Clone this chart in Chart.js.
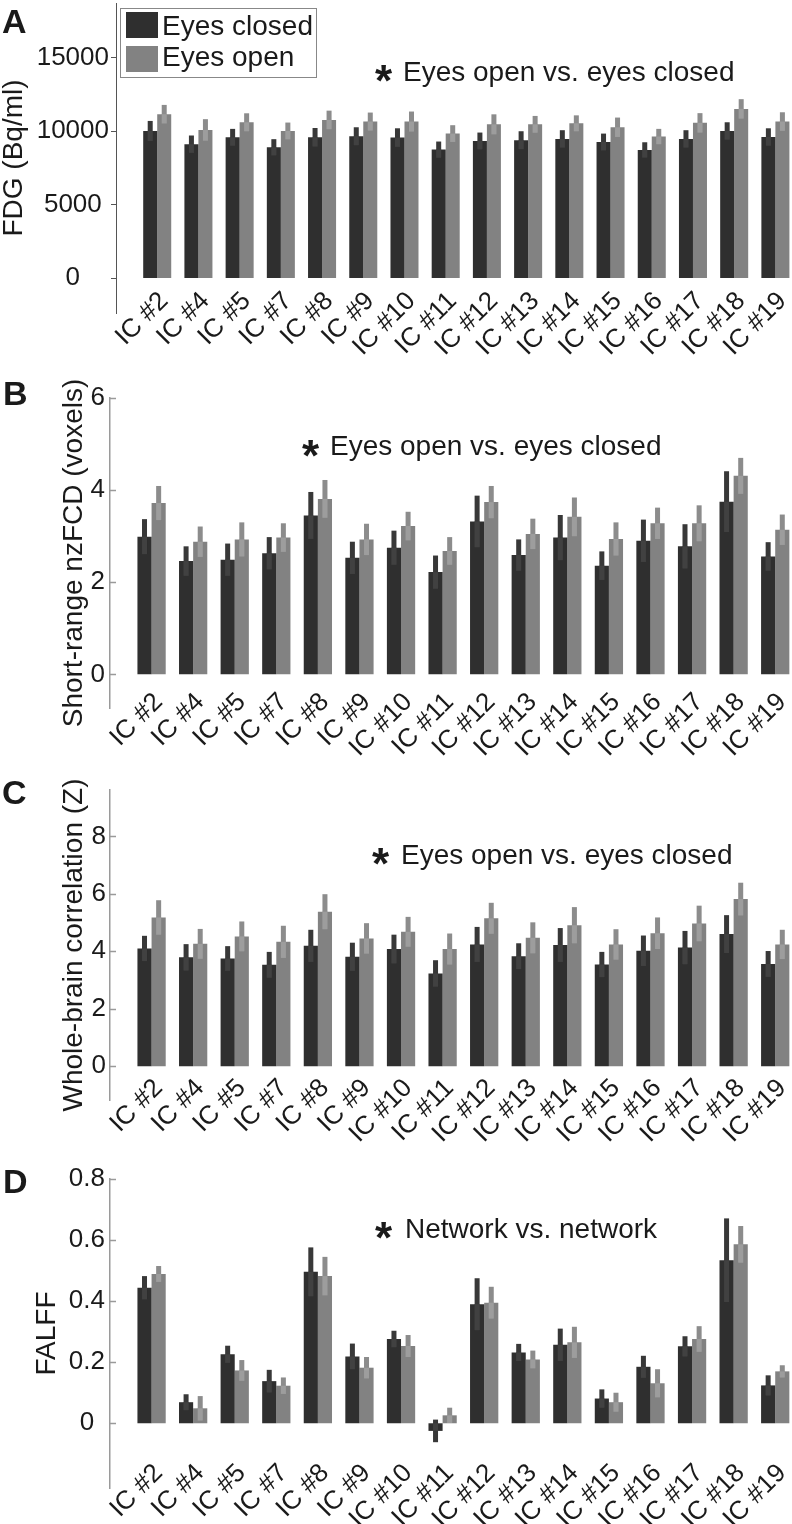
<!DOCTYPE html>
<html>
<head>
<meta charset="utf-8">
<script src="https://cdn.jsdelivr.net/npm/chart.js@4.4.1/dist/chart.umd.min.js"></script>
<style>
body { margin: 0; background: #fff; width: 792px; height: 1524px; overflow: hidden; position: relative;
       font-family: "Liberation Sans", Arial, sans-serif; color: #1a1a1a; }
canvas { position: absolute; left: 0; }
.txt { position: absolute; white-space: nowrap; line-height: 1; }
.letter { font-size: 34px; font-weight: bold; }
.note { font-size: 28px; }
.star { font-size: 44px; font-weight: bold; }
</style>
</head>
<body>
<canvas id="chartA" width="800" height="370" style="top:0px"></canvas>
<canvas id="chartB" width="800" height="410" style="top:360px"></canvas>
<canvas id="chartC" width="800" height="380" style="top:770px"></canvas>
<canvas id="chartD" width="800" height="374" style="top:1150px"></canvas>

<div class="txt letter" style="left:2px; top:4px">A</div>
<div class="txt letter" style="left:3px; top:376px">B</div>
<div class="txt letter" style="left:2px; top:775px">C</div>
<div class="txt letter" style="left:3px; top:1164px">D</div>

<div class="txt star" style="left:375px; top:59px">*</div>
<div class="txt note" style="left:403px; top:58px">Eyes open vs. eyes closed</div>
<div class="txt star" style="left:302px; top:434px">*</div>
<div class="txt note" style="left:330px; top:432px">Eyes open vs. eyes closed</div>
<div class="txt star" style="left:372px; top:842px">*</div>
<div class="txt note" style="left:401px; top:841px">Eyes open vs. eyes closed</div>
<div class="txt star" style="left:375px; top:1216px">*</div>
<div class="txt note" style="left:405px; top:1215px">Network vs. network</div>

<div id="legend" style="position:absolute; left:120px; top:8px; width:197px; height:70px; border:1.5px solid #888; box-sizing:border-box;"></div>

<script>
// categories and series
const icLabels = ['IC #2', 'IC #4', 'IC #5', 'IC #7', 'IC #8', 'IC #9', 'IC #10', 'IC #11',
                  'IC #12', 'IC #13', 'IC #14', 'IC #15', 'IC #16', 'IC #17', 'IC #18', 'IC #19'];
const seriesNames = ['Eyes closed', 'Eyes open'];

// A: FDG (Bq/ml)
const fdgClosed    = [10000, 9100, 9570, 8890, 9570, 9640, 9550, 8730, 9320, 9370, 9460, 9250, 8710, 9460, 10000, 9590];
const fdgClosedErr = [680, 590, 570, 550, 630, 610, 630, 550, 570, 610, 590, 570, 520, 590, 590, 590];
const fdgOpen      = [11140, 10070, 10590, 10000, 10750, 10640, 10640, 9820, 10450, 10450, 10520, 10250, 9620, 10550, 11500, 10640];
const fdgOpenErr   = [630, 730, 610, 570, 630, 610, 680, 570, 680, 570, 540, 660, 520, 660, 660, 630];
const fdgTicks     = [0, 5000, 10000, 15000];

// B: short-range nzFCD (voxels)
const fcdClosed    = [2.99, 2.46, 2.49, 2.63, 3.45, 2.53, 2.75, 2.22, 3.32, 2.59, 2.97, 2.36, 2.90, 2.78, 3.75, 2.56];
const fcdClosedErr = [0.38, 0.32, 0.35, 0.35, 0.51, 0.35, 0.37, 0.36, 0.56, 0.34, 0.49, 0.31, 0.46, 0.48, 0.66, 0.31];
const fcdOpen      = [3.72, 2.88, 2.93, 2.97, 3.81, 2.93, 3.22, 2.68, 3.74, 3.05, 3.42, 2.94, 3.28, 3.28, 4.31, 3.14];
const fcdOpenErr   = [0.37, 0.33, 0.37, 0.31, 0.41, 0.34, 0.31, 0.30, 0.35, 0.33, 0.42, 0.36, 0.34, 0.39, 0.39, 0.33];
const fcdTicks     = [0, 2, 4, 6];

// C: whole-brain correlation (Z)
const corrClosed    = [4.10, 3.79, 3.75, 3.53, 4.19, 3.81, 4.08, 3.23, 4.24, 3.83, 4.22, 3.54, 4.02, 4.13, 4.60, 3.56];
const corrClosedErr = [0.44, 0.46, 0.43, 0.45, 0.56, 0.49, 0.50, 0.46, 0.61, 0.45, 0.59, 0.44, 0.53, 0.58, 0.66, 0.45];
const corrOpen      = [5.18, 4.26, 4.52, 4.33, 5.38, 4.45, 4.68, 4.08, 5.15, 4.47, 4.91, 4.24, 4.63, 4.97, 5.82, 4.24];
const corrOpenErr   = [0.60, 0.52, 0.52, 0.56, 0.61, 0.53, 0.52, 0.54, 0.54, 0.54, 0.63, 0.53, 0.55, 0.62, 0.57, 0.51];
const corrTicks     = [0, 2, 4, 6, 8];

// D: FALFF
const falffClosed    = [0.444, 0.069, 0.226, 0.138, 0.496, 0.219, 0.276, -0.025, 0.390, 0.232, 0.257, 0.081, 0.185, 0.252, 0.534, 0.124];
const falffClosedErr = [0.038, 0.026, 0.028, 0.037, 0.080, 0.042, 0.027, 0.037, 0.085, 0.028, 0.053, 0.030, 0.036, 0.033, 0.137, 0.033];
const falffOpen      = [0.489, 0.049, 0.173, 0.123, 0.482, 0.182, 0.253, 0.026, 0.395, 0.209, 0.265, 0.069, 0.131, 0.276, 0.586, 0.170];
const falffOpenErr   = [0.026, 0.040, 0.034, 0.027, 0.063, 0.035, 0.036, 0.025, 0.052, 0.029, 0.051, 0.031, 0.046, 0.042, 0.060, 0.020];
const falffTicks     = [0, 0.2, 0.4, 0.6, 0.8];

const barColors = ['#2f2f2f', '#828282'];
const errOuter  = ['#383838', '#8c8c8c'];
const errInner  = ['#414141', '#9d9d9d'];
const FONT = '"Liberation Sans", Arial, sans-serif';

// legend (html, built from the series names)
const legend = document.getElementById('legend');
seriesNames.forEach((name, i) => {
    const sw = document.createElement('div');
    sw.style.cssText = 'position:absolute; left:5px; width:32px; height:26px; top:' + (3 + i * 33.5) + 'px; background:' + barColors[i];
    legend.appendChild(sw);
    const t = document.createElement('div');
    t.className = 'txt note';
    t.style.cssText = 'left:41px; top:' + (3 + i * 31) + 'px';
    t.textContent = name;
    legend.appendChild(t);
});

// error bars drawn from the y scale
const errorBars = {
    id: 'errorBars',
    afterDatasetsDraw(chart, args, opts) {
        const ctx = chart.ctx;
        const y = chart.scales.y;
        ctx.save();
        opts.errors.forEach((errs, d) => {
            const meta = chart.getDatasetMeta(d);
            meta.data.forEach((bar, i) => {
                const v = chart.data.datasets[d].data[i].y;
                const top = y.getPixelForValue(v + errs[i]);
                const bot = y.getPixelForValue(v - errs[i]);
                const w = 5;
                ctx.fillStyle = errOuter[d];
                ctx.fillRect(bar.x - w / 2, top, w, bot - top);
                // part that lies inside the bar
                const b0 = Math.min(bar.y, bar.base), b1 = Math.max(bar.y, bar.base);
                const i0 = Math.max(top, b0), i1 = Math.min(bot, b1);
                if (i1 > i0) {
                    ctx.fillStyle = errInner[d];
                    ctx.fillRect(bar.x - w / 2, i0, w, i1 - i0);
                }
            });
        });
        ctx.restore();
    }
};

// small tick marks on the y axis
const yTicks = {
    id: 'yTicks',
    afterDraw(chart, args, opts) {
        const ctx = chart.ctx;
        const y = chart.scales.y;
        const x0 = chart.chartArea.left;
        ctx.save();
        ctx.strokeStyle = opts.color;
        ctx.lineWidth = opts.width;
        y.ticks.forEach(t => {
            const py = Math.round(y.getPixelForValue(t.value)) + 0.5;
            ctx.beginPath();
            ctx.moveTo(x0, py);
            ctx.lineTo(x0 + opts.dir * opts.len, py);
            ctx.stroke();
        });
        ctx.restore();
    }
};

function makePanel(id, p) {
    const ctx = document.getElementById(id).getContext('2d');
    return new Chart(ctx, {
        type: 'bar',
        data: {
            datasets: [
                { label: seriesNames[0], data: p.closed.map((v, i) => ({ x: i + 1, y: v })),
                  backgroundColor: barColors[0], borderWidth: 0 },
                { label: seriesNames[1], data: p.open.map((v, i) => ({ x: i + 1, y: v })),
                  backgroundColor: barColors[1], borderWidth: 0 }
            ]
        },
        options: {
            responsive: false,
            animation: false,
            layout: { padding: { top: p.padTop, right: 4, left: 0, bottom: 0 } },
            categoryPercentage: 0.68,
            barPercentage: 1.0,
            plugins: {
                legend: { display: false },
                tooltip: { enabled: false },
                errorBars: { errors: [p.closedErr, p.openErr] },
                yTicks: { color: p.axisColor, width: p.axisWidth, dir: p.tickDir, len: p.tickLen }
            },
            scales: {
                x: {
                    type: 'linear',
                    min: 0,
                    max: 16.5,
                    offset: false,
                    grid: { display: false, drawTicks: false },
                    border: { display: false },
                    afterBuildTicks: s => { s.ticks = icLabels.map((l, i) => ({ value: i + 1 })); },
                    afterFit: s => {
                        s.height = p.xHeight;
                        s.paddingLeft = 0;
                        s.paddingRight = 0;
                        // labels start above the axis bottom, so do not clip them
                        s._computeLabelArea = () => undefined;
                    },
                    ticks: {
                        autoSkip: false,
                        minRotation: 45,
                        maxRotation: 45,
                        padding: p.labelPad,
                        labelOffset: 7,
                        color: '#1a1a1a',
                        font: { family: FONT, size: 26 },
                        callback: (v, i) => icLabels[i]
                    }
                },
                y: {
                    min: p.yMin,
                    max: p.yMax,
                    grid: { display: false, drawTicks: false },
                    border: { display: true, color: p.axisColor, width: p.axisWidth },
                    afterBuildTicks: s => { s.ticks = p.ticks.map(v => ({ value: v })); },
                    afterFit: s => {
                        s.width = p.axisX;
                        s.paddingTop = 0;
                        s.paddingBottom = 0;
                    },
                    ticks: {
                        crossAlign: 'center',
                        padding: p.tickPad,
                        color: '#1a1a1a',
                        font: { family: FONT, size: 26 },
                        callback: v => String(v)
                    },
                    title: {
                        display: true,
                        text: p.title,
                        color: '#1a1a1a',
                        font: { family: FONT, size: 28, lineHeight: 1 },
                        padding: { top: p.titleX - 14, bottom: 0 }
                    }
                }
            }
        },
        plugins: [errorBars, yTicks]
    });
}

makePanel('chartA', {
    closed: fdgClosed, closedErr: fdgClosedErr, open: fdgOpen, openErr: fdgOpenErr, ticks: fdgTicks,
    title: 'FDG (Bq/ml)', titleX: 14, axisX: 116, yMin: -2380, yMax: 18700, padTop: 3, xHeight: 57,
    tickPad: 7, labelPad: -27, axisColor: '#555', axisWidth: 1, tickDir: -1, tickLen: 5
});
makePanel('chartB', {
    closed: fcdClosed, closedErr: fcdClosedErr, open: fcdOpen, openErr: fcdOpenErr, ticks: fcdTicks,
    title: 'Short-range nzFCD (voxels)', titleX: 74, axisX: 110, yMin: -0.73, yMax: 6, padTop: 38, xHeight: 62,
    tickPad: 5, labelPad: -21, axisColor: '#9a9a9a', axisWidth: 1.5, tickDir: 1, tickLen: 6
});
makePanel('chartC', {
    closed: corrClosed, closedErr: corrClosedErr, open: corrOpen, openErr: corrOpenErr, ticks: corrTicks,
    title: 'Whole-brain correlation (Z)', titleX: 74, axisX: 110, yMin: -1.18, yMax: 9.62, padTop: 20, xHeight: 50,
    tickPad: 4, labelPad: -27, axisColor: '#9a9a9a', axisWidth: 1.5, tickDir: 1, tickLen: 6
});
makePanel('chartD', {
    closed: falffClosed, closedErr: falffClosedErr, open: falffOpen, openErr: falffOpenErr, ticks: falffTicks,
    title: 'FALFF', titleX: 47, axisX: 110, yMin: -0.212, yMax: 0.8, padTop: 29, xHeight: 36,
    tickPad: 5, labelPad: -30, axisColor: '#9a9a9a', axisWidth: 1.5, tickDir: 1, tickLen: 6
});
</script>
</body>
</html>
